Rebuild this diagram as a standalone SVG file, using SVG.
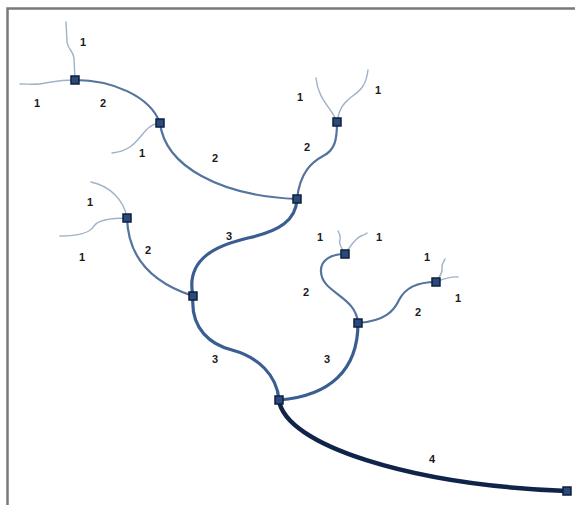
<svg xmlns="http://www.w3.org/2000/svg" width="575" height="505" viewBox="0 0 575 505">
<style>
.e{fill:none;stroke-linecap:round}
.l1{stroke:#9fb2c9;stroke-width:1.4}
.l2{stroke:#54739e;stroke-width:2.2}
.l3{stroke:#3a5d92;stroke-width:3.2}
.l4{stroke:#0f2448;stroke-width:4.5}
.n{fill:#2a4a7c;stroke:#0e1f3d;stroke-width:1.5}
text{font-family:"Liberation Sans",Arial,sans-serif;font-weight:bold;font-size:11px;fill:#1a1a1a;text-anchor:middle}
</style>
<rect width="575" height="505" fill="#fff"/>
<path d="M7.5,505 V8.5 H575" fill="none" stroke="#7a7a7a" stroke-width="2.5"/>
<g id="connectors">
<path class="e l4" d="M279,400 C285,445 410,485 567,491"/>
<path class="e l3" d="M193,296 C190,330 212,345 232,350 C258,357 277,375 279,400"/>
<path class="e l3" d="M279,400 C330,396 358,370 358,323"/>
<path class="e l3" d="M193,296 C185,258 218,245 248,238 C280,231 296,220 297,199"/>
<path class="e l2" d="M297,199 C220,196 165,166 160,123"/>
<path class="e l2" d="M160,123 C150,96 112,80 75,80"/>
<path class="e l2" d="M297,199 C300,172 312,162 323,156 C335,150 337,140 337,122"/>
<path class="e l2" d="M193,296 C150,282 128,256 127,218"/>
<path class="e l2" d="M358,323 C356,296 322,293 321,272 C320,259 333,254 345,254"/>
<path class="e l2" d="M358,323 C385,321 394,311 399,300 C406,286 420,282 436,282"/>
<path class="e l1" d="M75,80 L74,58 C73,50 68,50 67,42 L66,22"/>
<path class="e l1" d="M75,80 C58,80 52,82 45,83 C38,85 30,84 20,84"/>
<path class="e l1" d="M160,123 C140,125 142,150 112,153"/>
<path class="e l1" d="M337,122 C332,108 318,100 316,78"/>
<path class="e l1" d="M337,122 C340,105 345,103 350,98 C358,92 366,88 368,70"/>
<path class="e l1" d="M127,218 C124,200 110,186 91,182"/>
<path class="e l1" d="M127,218 C110,218 98,220 94,226 C90,233 76,236 60,236"/>
<path class="e l1" d="M345,254 C343,248 338,246 340,240 C341,236 339,233 338,231"/>
<path class="e l1" d="M345,254 C352,244 356,238 361,236 C364,235 366,234 367,233"/>
<path class="e l1" d="M436,282 C440,276 443,272 442,268 C441,264 444,262 445,259"/>
<path class="e l1" d="M436,282 C444,279 449,276 458,277"/>
</g>
<g id="nA"><rect class="n" x="71" y="76" width="8" height="8"/></g>
<g id="nB"><rect class="n" x="156" y="119" width="8" height="8"/></g>
<g id="nC"><rect class="n" x="293" y="195" width="8" height="8"/></g>
<g id="nD"><rect class="n" x="333" y="118" width="8" height="8"/></g>
<g id="nE"><rect class="n" x="123" y="214" width="8" height="8"/></g>
<g id="nF"><rect class="n" x="189" y="292" width="8" height="8"/></g>
<g id="nG"><rect class="n" x="275" y="396" width="8" height="8"/></g>
<g id="nH"><rect class="n" x="341" y="250" width="8" height="8"/></g>
<g id="nI"><rect class="n" x="354" y="319" width="8" height="8"/></g>
<g id="nJ"><rect class="n" x="432" y="278" width="8" height="8"/></g>
<g id="nK"><rect class="n" x="563" y="487" width="8" height="8"/></g>
<g id="labels">
<text x="83" y="46">1</text>
<text x="37" y="107">1</text>
<text x="103" y="107">2</text>
<text x="142" y="157">1</text>
<text x="215" y="162">2</text>
<text x="300" y="101">1</text>
<text x="378" y="94">1</text>
<text x="307" y="151">2</text>
<text x="229" y="240">3</text>
<text x="90" y="206">1</text>
<text x="82" y="261">1</text>
<text x="148" y="254">2</text>
<text x="320" y="241">1</text>
<text x="379" y="241">1</text>
<text x="427" y="261">1</text>
<text x="458" y="302">1</text>
<text x="306" y="296">2</text>
<text x="418" y="316">2</text>
<text x="215" y="363">3</text>
<text x="327" y="363">3</text>
<text x="432" y="463">4</text>
</g>
</svg>
